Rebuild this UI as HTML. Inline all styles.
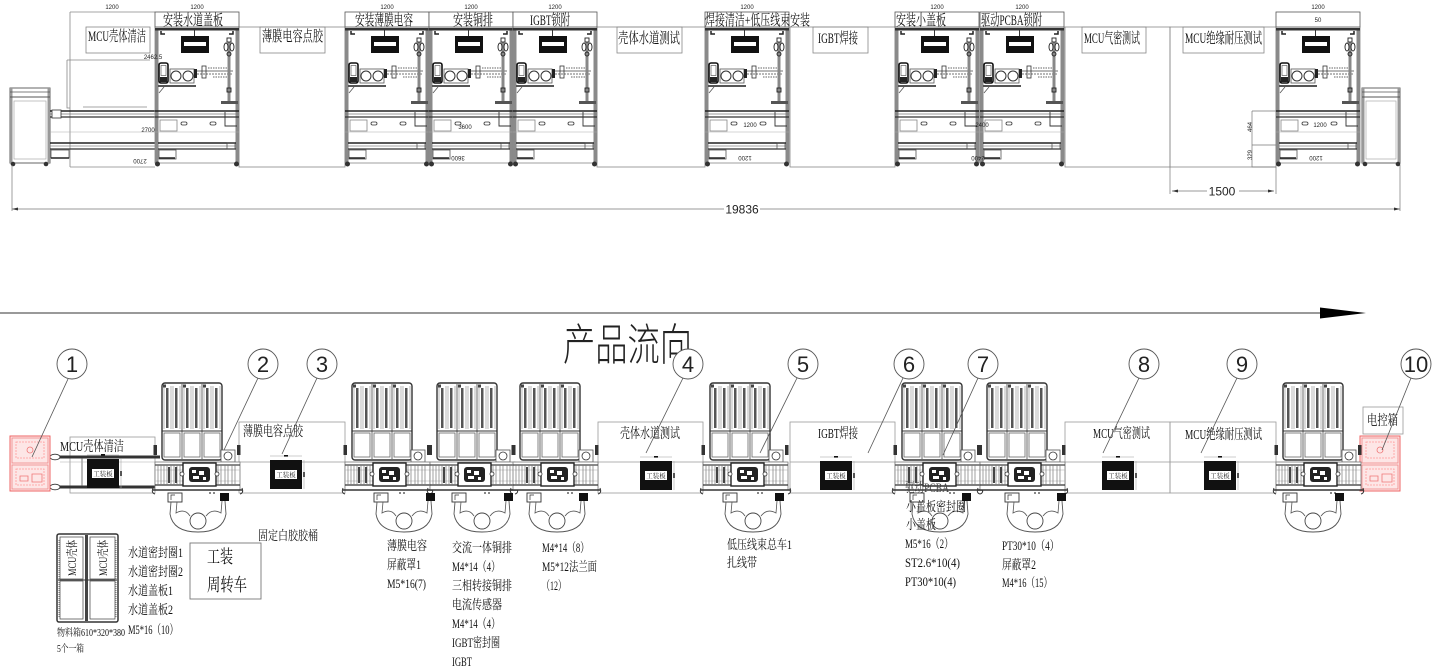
<!DOCTYPE html>
<html><head><meta charset="utf-8"><style>
html,body{margin:0;padding:0;background:#fff;}
svg{display:block;}
.t{font-family:"Liberation Serif","Noto Serif CJK SC",serif;fill:#111;}
.s{font-family:"Liberation Sans",sans-serif;fill:#222;}
</style></head><body>
<svg width="1440" height="671" viewBox="0 0 1440 671" xmlns="http://www.w3.org/2000/svg">
<defs>
 <g id="el">
  <rect x="0" y="27" width="84" height="136" fill="none" stroke="#888" stroke-width="0.8"/>
  <rect x="0" y="28" width="3.5" height="135" fill="#8a8a8a"/>
  <rect x="80.5" y="28" width="3.5" height="135" fill="#8a8a8a"/>
  <rect x="0" y="28" width="84" height="2.5" fill="#333"/>
  <path d="M6 31 v3 h4 M78 31 v3 h-4" stroke="#222" stroke-width="1.5" fill="none"/>
  <line x1="39.5" y1="30" x2="39.5" y2="36" stroke="#333" stroke-width="1"/>
  <rect x="26" y="36" width="28" height="17" fill="#111"/>
  <rect x="29" y="42" width="22" height="4" fill="#fff"/>
  <rect x="4" y="63" width="9" height="20" rx="2" fill="#fff" stroke="#111" stroke-width="1.6"/>
  <rect x="6" y="65.5" width="5" height="10" fill="#fff" stroke="#444" stroke-width="0.6"/>
  <rect x="5" y="77" width="7" height="5" fill="#222"/>
  <rect x="15" y="69" width="24" height="14" fill="none" stroke="#555" stroke-width="0.8"/>
  <circle cx="21" cy="76" r="5" fill="none" stroke="#333" stroke-width="1"/>
  <circle cx="33" cy="76" r="5" fill="none" stroke="#333" stroke-width="1"/>
  <rect x="39" y="69" width="3" height="9" fill="#222"/>
  <line x1="42" y1="71" x2="78" y2="71" stroke="#444" stroke-width="0.8"/>
  <line x1="42" y1="74" x2="78" y2="74" stroke="#444" stroke-width="0.8" stroke-dasharray="2 1"/>
  <rect x="47" y="66" width="4" height="12" fill="none" stroke="#333" stroke-width="0.8"/>
  <path d="M53 68 h22 M58 77 h16" stroke="#333" stroke-width="0.8" stroke-dasharray="1.5 1"/>
  <rect x="3" y="85" width="38" height="2" fill="#555"/>
  <line x1="4" y1="93" x2="9" y2="87" stroke="#555" stroke-width="0.8"/>
  <line x1="74" y1="42" x2="74" y2="102" stroke="#888" stroke-width="3"/>
  <g stroke="#222" fill="none" stroke-width="0.9">
   <rect x="72" y="38" width="4" height="4"/>
   <ellipse cx="71" cy="47" rx="2" ry="4"/>
   <ellipse cx="77" cy="47" rx="2" ry="4"/>
   <circle cx="74" cy="54" r="2"/>
   <rect x="72" y="88" width="4" height="4"/>
  </g>
  <rect x="66" y="101" width="17" height="3" fill="#555"/>
  <line x1="0" y1="111" x2="84" y2="111" stroke="#222" stroke-width="1.6"/>
  <line x1="0" y1="114" x2="84" y2="114" stroke="#777" stroke-width="0.8"/>
  <line x1="0" y1="117" x2="84" y2="117" stroke="#333" stroke-width="1.2"/>
  <rect x="5" y="120" width="17" height="11" fill="none" stroke="#888" stroke-width="0.8"/>
  <rect x="26" y="122" width="6" height="3" rx="1.5" fill="none" stroke="#333" stroke-width="0.8"/>
  <rect x="55" y="122" width="6" height="3" rx="1.5" fill="none" stroke="#333" stroke-width="0.8"/>
  <path d="M70 112 v14 h12" stroke="#333" fill="none" stroke-width="0.9"/>
  <line x1="0" y1="132" x2="84" y2="132" stroke="#aaa" stroke-width="0.6"/>
  <line x1="3" y1="143" x2="81" y2="143" stroke="#222" stroke-width="1.5"/>
  <line x1="3" y1="146" x2="81" y2="146" stroke="#888" stroke-width="0.8"/>
  <line x1="3" y1="149" x2="81" y2="149" stroke="#333" stroke-width="1.2"/>
  <rect x="72" y="143" width="8" height="6" fill="none" stroke="#444" stroke-width="0.7"/>
  <rect x="4" y="150" width="17" height="9" fill="none" stroke="#555" stroke-width="0.8"/>
  <line x1="4" y1="158" x2="20" y2="158" stroke="#222" stroke-width="1.5"/>
  <circle cx="2.5" cy="164" r="2.5" fill="#333"/>
  <circle cx="81.5" cy="164" r="2.5" fill="#333"/>
 </g>
 <g id="col">
  <line x1="2" y1="386" x2="2" y2="429" stroke="#888" stroke-width="0.6"/>
  <rect x="4" y="388" width="2.5" height="40" fill="#555"/>
  <line x1="9" y1="386" x2="9" y2="429" stroke="#888" stroke-width="0.6"/>
  <line x1="11" y1="386" x2="11" y2="429" stroke="#888" stroke-width="0.6"/>
  <rect x="13" y="388" width="2.5" height="40" fill="#555"/>
  <line x1="18" y1="386" x2="18" y2="429" stroke="#888" stroke-width="0.6"/>
  <rect x="1" y="384.5" width="3" height="3" fill="#444"/>
  <rect x="2" y="433" width="16" height="24" fill="#fff" stroke="#666" stroke-width="0.8"/>
 </g>
 <g id="tv">
  <rect x="7" y="383" width="60" height="77" rx="3" fill="#fff" stroke="#333" stroke-width="1.4"/>
  <use href="#col" x="7"/>
  <use href="#col" x="27"/>
  <use href="#col" x="47"/>
  <line x1="27" y1="384" x2="27" y2="459" stroke="#444" stroke-width="0.8"/>
  <line x1="47" y1="384" x2="47" y2="459" stroke="#444" stroke-width="0.8"/>
  <line x1="7" y1="431" x2="67" y2="431" stroke="#333" stroke-width="1"/>
  <rect x="66" y="450" width="14" height="12" fill="#fff" stroke="#555" stroke-width="0.8"/>
  <circle cx="73" cy="456" r="4" fill="none" stroke="#333" stroke-width="0.8"/>
  <rect x="-1.5" y="445" width="3.5" height="10" fill="#333"/>
  <rect x="82" y="445" width="3.5" height="10" fill="#333"/>
  <rect x="0" y="462" width="85" height="28" fill="#fff" stroke="#777" stroke-width="0.8"/>
  <line x1="0" y1="465" x2="85" y2="465" stroke="#444" stroke-width="1.2"/>
  <line x1="0" y1="470" x2="85" y2="470" stroke="#aaa" stroke-width="0.6"/>
  <line x1="0" y1="481" x2="85" y2="481" stroke="#aaa" stroke-width="0.6"/>
  <line x1="0" y1="485" x2="85" y2="485" stroke="#333" stroke-width="1.2"/>
  <g stroke="#777" stroke-width="0.7">
   <line x1="3" y1="465" x2="3" y2="485"/><line x1="6" y1="465" x2="6" y2="485"/>
   <line x1="9" y1="465" x2="9" y2="485"/><line x1="12" y1="465" x2="12" y2="485"/>
   <line x1="16" y1="465" x2="16" y2="485"/><line x1="19" y1="465" x2="19" y2="485"/>
   <line x1="22" y1="465" x2="22" y2="485"/><line x1="25" y1="465" x2="25" y2="485"/>
   <line x1="63" y1="465" x2="63" y2="485"/><line x1="66" y1="465" x2="66" y2="485"/>
   <line x1="70" y1="465" x2="70" y2="485"/><line x1="73" y1="465" x2="73" y2="485"/>
   <line x1="77" y1="465" x2="77" y2="485"/><line x1="80" y1="465" x2="80" y2="485"/>
  </g>
  <rect x="13" y="467" width="2" height="16" fill="#444"/>
  <rect x="20" y="467" width="2" height="16" fill="#444"/>
  <rect x="28" y="463" width="33" height="23" fill="#fff" stroke="#222" stroke-width="1.4"/>
  <rect x="34" y="467" width="21" height="15" rx="3" fill="#222"/>
  <rect x="37" y="470" width="4" height="3" fill="#fff"/>
  <rect x="44" y="471" width="5" height="4" fill="#fff"/>
  <rect x="38" y="476" width="6" height="3" fill="#fff"/>
  <rect x="48" y="477" width="3" height="3" fill="#fff"/>
  <circle cx="27" cy="474" r="2" fill="#fff" stroke="#333" stroke-width="0.8"/>
  <circle cx="62" cy="474" r="2" fill="#fff" stroke="#333" stroke-width="0.8"/>
  <line x1="-2" y1="490" x2="87" y2="490" stroke="#333" stroke-width="1.5"/>
  <path d="M-2 488 q-2 5 2 6 M87 488 q2 5 -2 6" stroke="#333" fill="none" stroke-width="1"/>
  <circle cx="55" cy="493" r="0.9" fill="#333"/>
  <circle cx="59" cy="493" r="0.9" fill="#333"/>
 </g>
 <g id="op">
  <rect x="0" y="493" width="14" height="9" fill="#fff" stroke="#333" stroke-width="0.9"/>
  <path d="M3 500 v-5 h4" stroke="#333" fill="none" stroke-width="0.7"/>
  <rect x="52" y="493" width="9" height="8" fill="#111"/>
  <path d="M3 502 L2 514 Q5 532 30 532 Q55 532 58 514 L57 501" stroke="#555" fill="none" stroke-width="0.9"/>
  <path d="M9 502 L8 513 Q17 508 22 516 M54 501 L53 513 Q44 508 38 516" stroke="#555" fill="none" stroke-width="0.8"/>
  <circle cx="30" cy="521" r="8" fill="none" stroke="#444" stroke-width="0.9"/>
 </g>
 <g id="wp">
  <rect x="0" y="0" width="32" height="29" fill="#111"/>
  <rect x="5" y="10" width="22" height="9" fill="#fff"/>
  <text x="16" y="17" font-size="6.5" text-anchor="middle" class="t">工装板</text>
  <line x1="0" y1="-4" x2="32" y2="-4" stroke="#999" stroke-width="0.6"/>
  <rect x="14" y="-5" width="4" height="1.6" fill="#111"/>
  <line x1="34" y1="0" x2="34" y2="29" stroke="#aaa" stroke-width="0.6"/>
  <rect x="33" y="12" width="2" height="5" fill="#555"/>
 </g>
 <g id="red">
  <rect x="0" y="0" width="40" height="55" fill="#fde6e6" stroke="#e66" stroke-width="1"/>
  <rect x="2" y="2" width="36" height="25" fill="none" stroke="#e88" stroke-width="0.8"/>
  <rect x="2" y="29" width="36" height="24" fill="none" stroke="#e88" stroke-width="0.8"/>
  <rect x="6" y="6" width="28" height="16" fill="none" stroke="#f99" stroke-width="0.8" stroke-dasharray="2 1"/>
  <rect x="6" y="33" width="28" height="16" fill="none" stroke="#f99" stroke-width="0.8" stroke-dasharray="2 1"/>
  <circle cx="20" cy="14" r="3" fill="none" stroke="#e77" stroke-width="0.8"/>
  <path d="M10 40 h8 v5 h-8z M22 38 h10 v8 h-10z" fill="none" stroke="#e77" stroke-width="0.8"/>
 </g>
</defs>

<!-- ================= ELEVATION (TOP) ================= -->
<g fill="none" stroke="#888" stroke-width="0.8">
 <!-- MCU clean region -->
 <line x1="70" y1="12" x2="70" y2="167"/>
 <line x1="70" y1="12" x2="155" y2="12"/>
 <line x1="70" y1="167" x2="155" y2="167"/>
 <rect x="86" y="27" width="64" height="26"/>
 <path d="M67 60 H150 M67 60 V108 H70 M83 107 H147"/>
 <!-- gap boxes -->
 <rect x="239" y="27" width="106" height="140"/>
 <rect x="260" y="27" width="65" height="26"/>
 <rect x="597" y="27" width="108" height="140"/>
 <rect x="617" y="27" width="65" height="26"/>
 <rect x="790" y="27" width="105" height="140"/>
 <rect x="813" y="27" width="55" height="26"/>
 <rect x="1065" y="27" width="105" height="140"/>
 <rect x="1082" y="27" width="64" height="26"/>
 <rect x="1170" y="27" width="106" height="140"/>
 <rect x="1183" y="27" width="81" height="26"/>
</g>
<!-- left cart -->
<g>
 <rect x="10" y="88" width="40" height="75" fill="none" stroke="#666" stroke-width="1"/>
 <rect x="10" y="88" width="2.5" height="75" fill="#999"/>
 <rect x="47.5" y="88" width="2.5" height="75" fill="#999"/>
 <line x1="10" y1="92" x2="50" y2="92" stroke="#555" stroke-width="0.8"/>
 <line x1="10" y1="97" x2="50" y2="97" stroke="#555" stroke-width="1"/>
 <rect x="14" y="101" width="32" height="58" fill="none" stroke="#aaa" stroke-width="0.7"/>
 <circle cx="13" cy="164" r="2.3" fill="#333"/><circle cx="46" cy="164" r="2.3" fill="#333"/>
 <line x1="50" y1="111" x2="155" y2="111" stroke="#222" stroke-width="1.6"/>
 <line x1="50" y1="114" x2="155" y2="114" stroke="#777" stroke-width="0.8"/>
 <line x1="50" y1="117" x2="155" y2="117" stroke="#333" stroke-width="1.2"/>
 <rect x="52" y="110" width="9" height="8" fill="#fff" stroke="#333" stroke-width="0.8"/>
 <line x1="50" y1="132" x2="155" y2="132" stroke="#aaa" stroke-width="0.6"/>
 <line x1="50" y1="143" x2="155" y2="143" stroke="#222" stroke-width="1.5"/>
 <line x1="50" y1="146" x2="155" y2="146" stroke="#888" stroke-width="0.8"/>
 <line x1="50" y1="149" x2="155" y2="149" stroke="#333" stroke-width="1.2"/>
 <rect x="51" y="150" width="18" height="8" fill="none" stroke="#555" stroke-width="0.8"/>
 <line x1="51" y1="158" x2="69" y2="158" stroke="#222" stroke-width="1.5"/>
</g>
<!-- right cart -->
<g>
 <rect x="1362" y="88" width="38" height="75" fill="none" stroke="#666" stroke-width="1"/>
 <rect x="1362" y="88" width="2.5" height="75" fill="#999"/>
 <rect x="1397.5" y="88" width="2.5" height="75" fill="#999"/>
 <line x1="1362" y1="92" x2="1400" y2="92" stroke="#555" stroke-width="0.8"/>
 <line x1="1362" y1="97" x2="1400" y2="97" stroke="#555" stroke-width="1"/>
 <rect x="1366" y="101" width="30" height="58" fill="none" stroke="#aaa" stroke-width="0.7"/>
 <circle cx="1365" cy="164" r="2.3" fill="#333"/><circle cx="1398" cy="164" r="2.3" fill="#333"/>
</g>
<!-- stations elevation -->
<use href="#el" x="155"/>
<use href="#el" x="345"/>
<use href="#el" x="429"/>
<use href="#el" x="513"/>
<use href="#el" x="705"/>
<use href="#el" x="895"/>
<use href="#el" x="980"/>
<use href="#el" x="1276"/>
<!-- title boxes -->
<g fill="#fff" stroke="#555" stroke-width="0.8">
 <rect x="155" y="12" width="84" height="15"/>
 <rect x="345" y="12" width="84" height="15"/>
 <rect x="429" y="12" width="84" height="15"/>
 <rect x="513" y="12" width="84" height="15"/>
 <rect x="705" y="12" width="84" height="15"/>
 <rect x="895" y="12" width="84" height="15"/>
 <rect x="980" y="12" width="84" height="15"/>
 <rect x="1276" y="12" width="84" height="15"/>
</g>
<g class="s" font-size="6" text-anchor="middle">
 <text x="112" y="9">1200</text>
 <text x="197" y="9">1200</text>
 <text x="387" y="9">1200</text>
 <text x="471" y="9">1200</text>
 <text x="555" y="9">1200</text>
 <text x="747" y="9">1200</text>
 <text x="937" y="9">1200</text>
 <text x="1022" y="9">1200</text>
 <text x="1318" y="9">1200</text>
 <text x="1318" y="22">50</text>
 <text x="153" y="59">2462.5</text>
 <text x="148" y="132">2700</text>
 <text x="140" y="163" transform="rotate(180 140 161)">2700</text>
 <text x="465" y="129">3600</text>
 <text x="458" y="160" transform="rotate(180 458 158)">3600</text>
 <text x="750" y="127">1200</text>
 <text x="745" y="160" transform="rotate(180 745 158)">1200</text>
 <text x="982" y="127">2400</text>
 <text x="978" y="160" transform="rotate(180 978 158)">2400</text>
 <text x="1320" y="127">1200</text>
 <text x="1316" y="160" transform="rotate(180 1316 158)">1200</text>
 <text x="1250" y="129" transform="rotate(-90 1250 127)">464</text>
 <text x="1250" y="157" transform="rotate(-90 1250 155)">329</text>
</g>
<!-- titles -->
<g class="t" font-size="15">
 <text x="163" y="25" textLength="60" lengthAdjust="spacingAndGlyphs">安装水道盖板</text>
 <text x="355" y="25" textLength="58" lengthAdjust="spacingAndGlyphs">安装薄膜电容</text>
 <text x="453" y="25" textLength="40" lengthAdjust="spacingAndGlyphs">安装铜排</text>
 <text x="530" y="25" textLength="40" lengthAdjust="spacingAndGlyphs">IGBT锁附</text>
 <text x="705" y="25" textLength="105" lengthAdjust="spacingAndGlyphs">焊接清洁+低压线束安装</text>
 <text x="896" y="25" textLength="50" lengthAdjust="spacingAndGlyphs">安装小盖板</text>
 <text x="981" y="25" textLength="61" lengthAdjust="spacingAndGlyphs">驱动PCBA锁附</text>
 <text x="88" y="41" textLength="58" lengthAdjust="spacingAndGlyphs">MCU壳体清洁</text>
 <text x="262" y="41" textLength="61" lengthAdjust="spacingAndGlyphs">薄膜电容点胶</text>
 <text x="618" y="43" textLength="62" lengthAdjust="spacingAndGlyphs">壳体水道测试</text>
 <text x="818" y="43" textLength="40" lengthAdjust="spacingAndGlyphs">IGBT焊接</text>
 <text x="1084" y="43" textLength="56" lengthAdjust="spacingAndGlyphs">MCU气密测试</text>
 <text x="1185" y="43" textLength="77" lengthAdjust="spacingAndGlyphs">MCU绝缘耐压测试</text>
</g>
<!-- right dims -->
<g stroke="#777" stroke-width="0.7" fill="none">
 <path d="M1252 111 H1276 M1252 145 H1276 M1252 111 V167 H1276"/>
 <path d="M1170 167 V194 M1276 167 V194"/>
 <path d="M1172 191 H1207 M1239 191 H1274"/>
 <path d="M12 165 V211 M1400 165 V211"/>
 <path d="M12 209 H724 M760 209 H1400"/>
</g>
<path d="M1172 191 l6 -1.5 v3z M1274 191 l-6 -1.5 v3z M12 209 l6 -1.5 v3z M1400 209 l-6 -1.5 v3z" fill="#333"/>
<text x="1222" y="195.5" font-size="12" text-anchor="middle" class="s">1500</text>
<text x="742" y="213.5" font-size="12" text-anchor="middle" class="s">19836</text>

<!-- ================= FLOW ARROW ================= -->
<line x1="0" y1="313" x2="1325" y2="313" stroke="#333" stroke-width="1"/>
<polygon points="1320,307.5 1366,313 1320,318.5" fill="#000"/>
<text x="563" y="360" font-size="44" textLength="129" lengthAdjust="spacingAndGlyphs" font-family="'Noto Sans CJK SC',sans-serif" font-weight="300" fill="#222">产品流向</text>

<!-- ================= PLAN VIEW ================= -->
<g fill="none" stroke="#999" stroke-width="0.8">
 <rect x="70" y="437" width="85" height="56"/>
 <rect x="239" y="422" width="106" height="71"/>
 <rect x="598" y="422" width="105" height="71"/>
 <rect x="790" y="422" width="105" height="71"/>
 <rect x="1065" y="422" width="105" height="71"/>
 <rect x="1170" y="422" width="106" height="71"/>
 <rect x="1363" y="407" width="40" height="27"/>
 <path d="M239 462 H345 M598 462 H703 M790 462 H895 M1065 462 H1276"/>
</g>
<!-- left rails -->
<g>
 <rect x="55" y="455.5" width="105" height="3" fill="#333"/>
 <rect x="55" y="485.5" width="105" height="3" fill="#333"/>
 <ellipse cx="55" cy="457" rx="5" ry="2.8" fill="#fff" stroke="#333" stroke-width="0.9"/>
 <ellipse cx="55" cy="487" rx="5" ry="2.8" fill="#fff" stroke="#333" stroke-width="0.9"/>
 <line x1="82" y1="458" x2="82" y2="486" stroke="#555" stroke-width="0.8"/>
 <line x1="60" y1="462" x2="155" y2="462" stroke="#aaa" stroke-width="0.6"/>
</g>
<use href="#red" x="10" y="436"/>
<use href="#red" x="1360" y="436"/>
<!-- stations plan -->
<use href="#tv" x="155"/>
<use href="#tv" x="345"/>
<use href="#tv" x="430"/>
<use href="#tv" x="513"/>
<use href="#tv" x="703"/>
<use href="#tv" x="895"/>
<use href="#tv" x="980"/>
<use href="#tv" x="1276"/>
<!-- operators -->
<use href="#op" x="168"/>
<use href="#op" x="374"/>
<use href="#op" x="452"/>
<use href="#op" x="527"/>
<use href="#op" x="723"/>
<use href="#op" x="910"/>
<use href="#op" x="1005"/>
<use href="#op" x="1283"/>
<!-- work plates -->
<use href="#wp" x="87" y="459"/>
<use href="#wp" x="270" y="460"/>
<use href="#wp" x="640" y="461"/>
<use href="#wp" x="820" y="461"/>
<use href="#wp" x="1102" y="461"/>
<use href="#wp" x="1204" y="461"/>
<!-- plan labels -->
<g class="t" font-size="14">
 <text x="60" y="451" textLength="64" lengthAdjust="spacingAndGlyphs">MCU壳体清洁</text>
 <text x="243" y="436" textLength="60" lengthAdjust="spacingAndGlyphs">薄膜电容点胶</text>
 <text x="620" y="438" textLength="60" lengthAdjust="spacingAndGlyphs">壳体水道测试</text>
 <text x="818" y="438" textLength="40" lengthAdjust="spacingAndGlyphs">IGBT焊接</text>
 <text x="1093" y="438" textLength="57" lengthAdjust="spacingAndGlyphs">MCU气密测试</text>
 <text x="1185" y="439" textLength="77" lengthAdjust="spacingAndGlyphs">MCU绝缘耐压测试</text>
 <text x="1367" y="425" textLength="31" lengthAdjust="spacingAndGlyphs">电控箱</text>
</g>
<!-- callouts -->
<g stroke="#555" stroke-width="0.8" fill="none">
 <line x1="68" y1="379" x2="32" y2="457"/>
 <line x1="258" y1="378" x2="224" y2="450"/>
 <line x1="317" y1="378" x2="282" y2="454"/>
 <line x1="683" y1="378" x2="646" y2="453"/>
 <line x1="797" y1="378" x2="760" y2="453"/>
 <line x1="903" y1="378" x2="868" y2="453"/>
 <line x1="978" y1="378" x2="943" y2="455"/>
 <line x1="1139" y1="378" x2="1103" y2="453"/>
 <line x1="1237" y1="378" x2="1201" y2="453"/>
 <line x1="1411" y1="378" x2="1382" y2="450"/>
</g>
<g fill="#fff" stroke="#555" stroke-width="0.9">
 <circle cx="72" cy="364" r="15"/>
 <circle cx="263" cy="364" r="15"/>
 <circle cx="322" cy="364" r="15"/>
 <circle cx="688" cy="364" r="15"/>
 <circle cx="803" cy="364" r="15"/>
 <circle cx="909" cy="364" r="15"/>
 <circle cx="983" cy="364" r="15"/>
 <circle cx="1144" cy="364" r="15"/>
 <circle cx="1242" cy="364" r="15"/>
 <circle cx="1416" cy="364" r="15"/>
</g>
<g class="s" font-size="22" text-anchor="middle" fill="#111">
 <text x="72" y="372">1</text>
 <text x="263" y="372">2</text>
 <text x="322" y="372">3</text>
 <text x="688" y="372">4</text>
 <text x="803" y="372">5</text>
 <text x="909" y="372">6</text>
 <text x="983" y="372">7</text>
 <text x="1144" y="372">8</text>
 <text x="1242" y="372">9</text>
 <text x="1416" y="372">10</text>
</g>

<!-- material box -->
<g>
 <rect x="57" y="534" width="61" height="88" rx="2" fill="#fff" stroke="#333" stroke-width="1.5"/>
 <rect x="85" y="535" width="3" height="86" fill="#444"/>
 <rect x="60" y="537" width="23" height="42" fill="none" stroke="#555" stroke-width="0.8"/>
 <rect x="90" y="537" width="25" height="42" fill="none" stroke="#555" stroke-width="0.8"/>
 <rect x="60" y="581" width="23" height="38" fill="none" stroke="#555" stroke-width="0.8"/>
 <rect x="90" y="581" width="25" height="38" fill="none" stroke="#555" stroke-width="0.8"/>
 <line x1="58" y1="580" x2="117" y2="580" stroke="#333" stroke-width="1"/>
 <line x1="116" y1="540" x2="116" y2="618" stroke="#777" stroke-width="1" stroke-dasharray="1 1"/>
 <line x1="59" y1="540" x2="59" y2="618" stroke="#777" stroke-width="1" stroke-dasharray="1 1"/>
 <text class="t" font-size="12" x="0" y="0" textLength="36" lengthAdjust="spacingAndGlyphs" transform="translate(76 576) rotate(-90)">MCU壳体</text>
 <text class="t" font-size="12" x="0" y="0" textLength="36" lengthAdjust="spacingAndGlyphs" transform="translate(107 576) rotate(-90)">MCU壳体</text>
</g>
<rect x="190" y="543" width="71" height="56" fill="none" stroke="#777" stroke-width="0.9"/>

<!-- bottom texts -->
<g class="t" font-size="13">
 <text x="57" y="636" font-size="10" textLength="68" lengthAdjust="spacingAndGlyphs">物料箱610*320*380</text>
 <text x="57" y="652" font-size="10" textLength="27" lengthAdjust="spacingAndGlyphs">5个一箱</text>
 <text x="128" y="557" textLength="55" lengthAdjust="spacingAndGlyphs">水道密封圈1</text>
 <text x="128" y="576" textLength="55" lengthAdjust="spacingAndGlyphs">水道密封圈2</text>
 <text x="128" y="595" textLength="45" lengthAdjust="spacingAndGlyphs">水道盖板1</text>
 <text x="128" y="614" textLength="45" lengthAdjust="spacingAndGlyphs">水道盖板2</text>
 <text x="128" y="634" textLength="50" lengthAdjust="spacingAndGlyphs">M5*16（10）</text>
 <text x="207" y="563" font-size="18" textLength="26" lengthAdjust="spacingAndGlyphs">工装</text>
 <text x="207" y="591" font-size="18" textLength="40" lengthAdjust="spacingAndGlyphs">周转车</text>
 <text x="258" y="540" textLength="60" lengthAdjust="spacingAndGlyphs">固定白胶胶桶</text>
 <text x="387" y="550" textLength="40" lengthAdjust="spacingAndGlyphs">薄膜电容</text>
 <text x="387" y="569" textLength="34" lengthAdjust="spacingAndGlyphs">屏蔽罩1</text>
 <text x="387" y="588" textLength="39" lengthAdjust="spacingAndGlyphs">M5*16(7)</text>
 <text x="452" y="552" textLength="60" lengthAdjust="spacingAndGlyphs">交流一体铜排</text>
 <text x="452" y="571" textLength="48" lengthAdjust="spacingAndGlyphs">M4*14（4）</text>
 <text x="452" y="590" textLength="60" lengthAdjust="spacingAndGlyphs">三相转接铜排</text>
 <text x="452" y="609" textLength="50" lengthAdjust="spacingAndGlyphs">电流传感器</text>
 <text x="452" y="628" textLength="48" lengthAdjust="spacingAndGlyphs">M4*14（4）</text>
 <text x="452" y="647" textLength="48" lengthAdjust="spacingAndGlyphs">IGBT密封圈</text>
 <text x="452" y="666" textLength="20" lengthAdjust="spacingAndGlyphs">IGBT</text>
 <text x="542" y="552" textLength="47" lengthAdjust="spacingAndGlyphs">M4*14（8）</text>
 <text x="542" y="571" textLength="55" lengthAdjust="spacingAndGlyphs">M5*12法兰面</text>
 <text x="542" y="590" textLength="24" lengthAdjust="spacingAndGlyphs">（12）</text>
 <text x="727" y="549" textLength="65" lengthAdjust="spacingAndGlyphs">低压线束总车1</text>
 <text x="727" y="567" textLength="30" lengthAdjust="spacingAndGlyphs">扎线带</text>
 <text x="905" y="492" textLength="44" lengthAdjust="spacingAndGlyphs" fill="#444">驱动PCBA</text>
 <text x="906" y="511" textLength="60" lengthAdjust="spacingAndGlyphs">小盖板密封圈</text>
 <text x="906" y="529" textLength="30" lengthAdjust="spacingAndGlyphs">小盖板</text>
 <text x="905" y="548" textLength="48" lengthAdjust="spacingAndGlyphs">M5*16（2）</text>
 <text x="905" y="567" textLength="55" lengthAdjust="spacingAndGlyphs">ST2.6*10(4)</text>
 <text x="905" y="586" textLength="51" lengthAdjust="spacingAndGlyphs">PT30*10(4)</text>
 <text x="1002" y="550" textLength="57" lengthAdjust="spacingAndGlyphs">PT30*10（4）</text>
 <text x="1002" y="569" textLength="34" lengthAdjust="spacingAndGlyphs">屏蔽罩2</text>
 <text x="1002" y="587" textLength="50" lengthAdjust="spacingAndGlyphs">M4*16（15）</text>
</g>
</svg>
</body></html>
